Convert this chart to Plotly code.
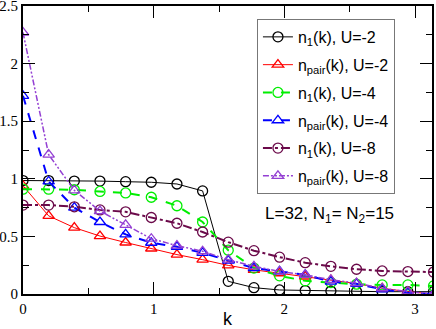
import numpy as np
import plotly.graph_objects as go

L = 32
k = [2 * np.pi * n / L for n in range(17)]

n1_U2 = [0.985, 0.985, 0.98, 0.98, 0.975, 0.97, 0.955, 0.895, 0.11, 0.055, 0.035, 0.03, 0.026, 0.022, 0.02, 0.02, 0.02]
npair_U2 = [0.94, 0.678, 0.576, 0.503, 0.447, 0.395, 0.342, 0.298, 0.248, 0.21, 0.18, 0.152, 0.12, 0.09, 0.05, 0.02, 0.0]
n1_U4 = [0.91, 0.91, 0.905, 0.89, 0.877, 0.84, 0.766, 0.625, 0.38, 0.225, 0.158, 0.114, 0.099, 0.085, 0.079, 0.079, 0.07]
npair_U4 = [1.72, 0.977, 0.75, 0.625, 0.517, 0.445, 0.41, 0.357, 0.29, 0.225, 0.196, 0.167, 0.108, 0.088, 0.04, 0.011, 0.0]
n1_U8 = [0.772, 0.772, 0.757, 0.73, 0.713, 0.664, 0.614, 0.538, 0.45, 0.376, 0.32, 0.272, 0.24, 0.215, 0.2, 0.195, 0.19]
npair_U8 = [2.27, 1.21, 0.9, 0.72, 0.6, 0.48, 0.42, 0.371, 0.298, 0.24, 0.196, 0.167, 0.123, 0.094, 0.05, 0.02, 0.0]

names = ["n<sub>1</sub>(k), U=-2", "n<sub>pair</sub>(k), U=-2",
         "n<sub>1</sub>(k), U=-4", "n<sub>pair</sub>(k), U=-4",
         "n<sub>1</sub>(k), U=-8", "n<sub>pair</sub>(k), U=-8"]
series = [n1_U2, npair_U2, n1_U4, npair_U4, n1_U8, npair_U8]
colors = ["#000000", "#ff0000", "#00ee00", "#0000ff", "#6b0a4a", "#9440d3"]
symbols = ["circle-open", "triangle-up-open"] * 3
dashes = ["solid", "solid", "dash", "dash", "dashdot", "6px,2px,2px,2px,2px,2px"]
widths = [1, 1, 2, 2, 2, 1.5]

fig = go.Figure()
for i, (nm, ys, c, s, d, w) in enumerate(zip(names, series, colors, symbols, dashes, widths)):
    fig.add_trace(go.Scatter(
        x=k, y=ys, name=nm, mode="lines+markers", legendgroup=f"g{i}",
        line=dict(color=c, dash=d, width=w),
        marker=dict(symbol=s, size=10, color=c, line=dict(color=c, width=1.3)),
    ))

axis_common = dict(
    showline=True, linecolor="black", linewidth=2, mirror="allticks",
    ticks="inside", ticklen=12, tickwidth=1, tickcolor="black",
    showgrid=False, zeroline=False, automargin=False, ticklabeloverflow="allow",
    tickfont=dict(family="Liberation Serif", size=15, color="black"),
)

fig.update_xaxes(range=[0, 3.13], dtick=1, tick0=0,
                 minor=dict(dtick=0.5, ticks="inside", ticklen=6, tickcolor="black", showgrid=False),
                 title=dict(text="k", font=dict(family="Liberation Sans", size=18, color="black"), standoff=0),
                 **axis_common)
fig.update_yaxes(range=[0, 2.5], dtick=0.5, tick0=0,
                 minor=dict(dtick=0.25, ticks="inside", ticklen=6, tickcolor="black", showgrid=False),
                 **axis_common)

fig.add_annotation(
    x=0.75, y=0.275, xref="paper", yref="paper", showarrow=False,
    xanchor="center", yanchor="middle",
    text="L=32, N<sub>1</sub>= N<sub>2</sub>=15",
    font=dict(family="Liberation Sans", size=17, color="black"),
)

fig.update_layout(
    width=436, height=329,
    margin=dict(l=23, r=4, t=6, b=35),
    plot_bgcolor="white", paper_bgcolor="white",
    showlegend=True,
    legend=dict(x=0.572, y=0.955, xanchor="left", yanchor="top",
                bgcolor="white", bordercolor="#777777", borderwidth=1,
                font=dict(family="Liberation Sans", size=16, color="black"),
                tracegroupgap=4, itemwidth=30),
)

fig.write_html("out.html", config={"displayModeBar": False},
               post_script="document.body.style.margin='0';document.body.style.overflow='hidden';")
